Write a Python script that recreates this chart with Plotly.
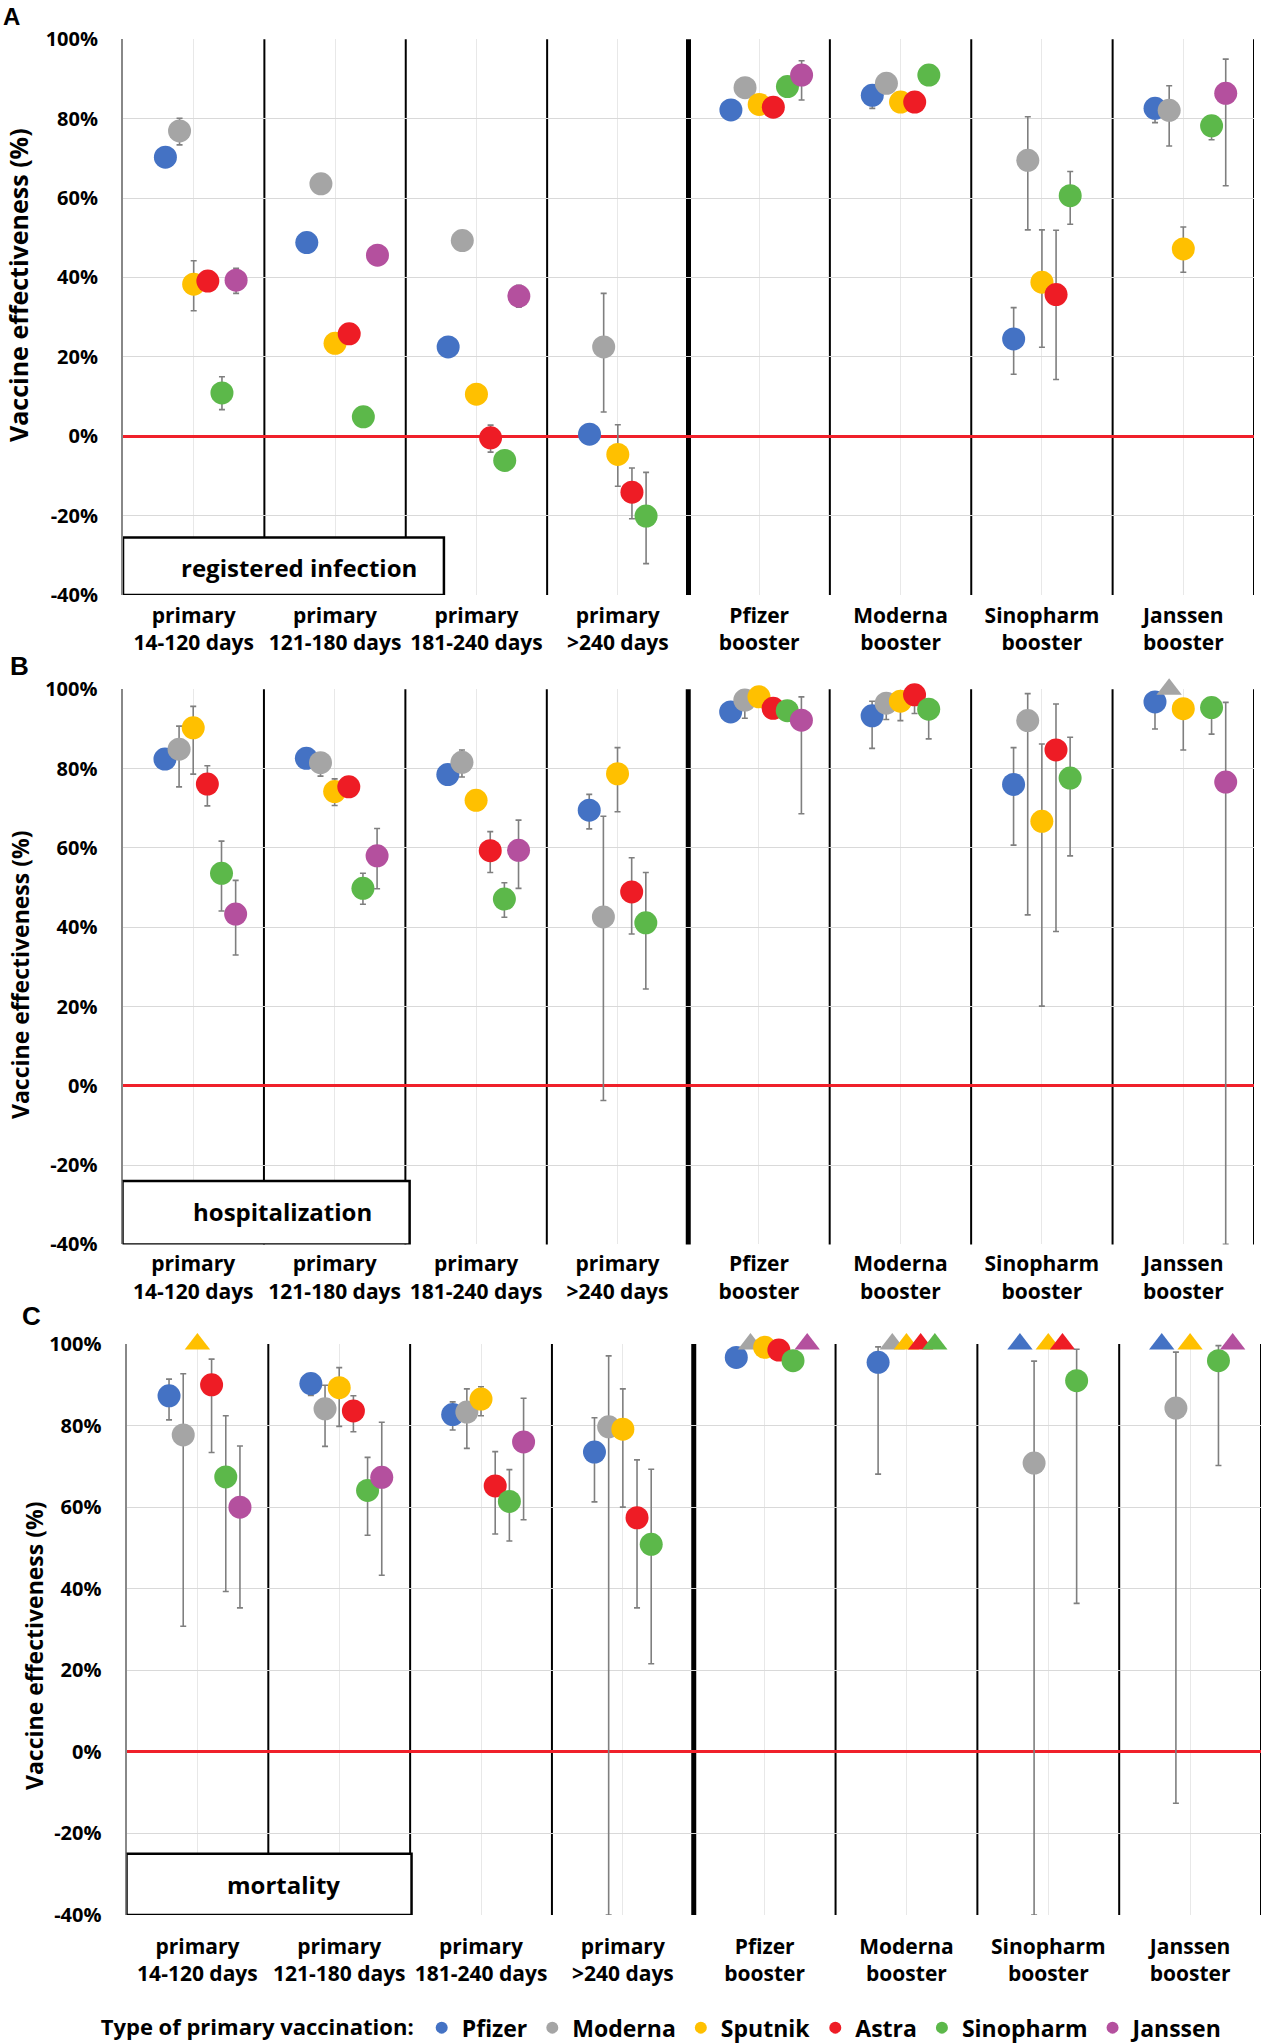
import plotly.graph_objects as go

W, H = 1263, 2043

VACCINES = ["Pfizer", "Moderna", "Sputnik", "Astra", "Sinopharm", "Janssen"]
COLORS = ["#4472C4", "#A5A5A5", "#FFC000", "#EE1C25", "#5CB84A", "#B4509E"]
GROUPS = ["primary<br>14-120 days", "primary<br>121-180 days", "primary<br>181-240 days",
          "primary<br>>240 days", "Pfizer<br>booster", "Moderna<br>booster",
          "Sinopharm<br>booster", "Janssen<br>booster"]
Y_TICKS = [-40, -20, 0, 20, 40, 60, 80, 100]
Y_TICK_TEXT = ["-40%", "-20%", "0%", "20%", "40%", "60%", "80%", "100%"]
PANEL_LABELS = ["registered infection", "hospitalization", "mortality"]

# ---- A: registered infection (rows follow VACCINES order, columns follow GROUPS) ----
INF_VE = [
    [70.3, 48.8, 22.5, 0.5, 82.2, 85.9, 24.5, 82.6],
    [76.9, 63.6, 49.3, 22.5, 87.8, 88.9, 69.5, 82.1],
    [38.3, 23.4, 10.6, -4.6, 83.6, 84.2, 38.8, 47.2],
    [39.1, 25.8, -0.4, -14.1, 82.9, 84.2, 35.7, None],
    [10.9, 4.9, -6.1, -20.1, 88.1, 91.0, 60.6, 78.2],
    [39.3, 45.6, 35.3, None, 91.0, None, None, 86.4],
]
INF_LO = [
    [None, None, None, None, None, 82.6, 15.6, 79.0],
    [73.4, None, None, 6.1, None, None, 52.0, 73.1],
    [31.6, None, None, -12.6, None, None, 22.4, 41.3],
    [None, None, -4.0, -20.8, None, None, 14.3, None],
    [6.7, None, None, -32.1, None, None, 53.4, 74.7],
    [36.0, None, 32.5, None, 84.7, None, None, 63.1],
]
INF_HI = [
    [None, None, None, None, None, None, 32.4, None],
    [80.1, None, None, 36.0, None, None, 80.5, 88.3],
    [44.2, None, None, 2.9, None, None, 52.0, 52.7],
    [None, None, 2.8, -8.0, None, None, 51.9, None],
    [15.0, None, None, -9.1, None, None, 66.7, None],
    [42.3, None, 38.0, None, 94.6, None, None, 95.0],
]

# ---- B: hospitalization ----
HOSP_VE = [
    [82.4, 82.6, 78.5, 69.5, 94.3, 93.3, 76.0, 96.8],
    [84.9, 81.5, 81.6, 42.6, 97.3, 96.5, 92.1, 100],
    [90.3, 74.2, 72.0, 78.7, 98.1, 97.0, 66.7, 95.1],
    [76.1, 75.4, 59.3, 48.9, 95.2, 98.6, 84.7, None],
    [53.6, 49.8, 47.1, 41.1, 94.6, 95.0, 77.6, 95.4],
    [43.3, 58.0, 59.4, None, 92.2, None, None, 76.6],
]
HOSP_LO = [
    [None, None, None, 64.8, None, 85.1, 60.7, 90.0],
    [75.4, 78.1, 77.9, -3.7, 92.7, 92.4, 43.1, None],
    [78.6, 70.7, None, 69.1, None, 92.1, 20.1, 84.7],
    [70.6, None, 53.8, 38.3, None, 93.9, 38.9, None],
    [44.1, 45.8, 42.5, 24.4, None, 87.5, 58.0, 88.7],
    [33.0, 49.7, 49.8, None, 68.6, None, None, -40],
]
HOSP_HI = [
    [None, None, None, 73.5, None, 97.0, 85.3, None],
    [90.7, None, 84.7, 68.0, None, None, 98.9, None],
    [95.7, 77.4, None, 85.3, None, None, 86.2, None],
    [80.7, None, 64.1, 57.5, None, None, 96.3, None],
    [61.7, 53.6, 51.2, 53.8, None, None, 87.9, None],
    [51.8, 64.9, 67.0, None, 98.1, None, None, 96.7],
]

# ---- C: mortality ----
MORT_VE = [
    [87.3, 90.3, 82.7, 73.5, 96.7, 95.5, 100, 100],
    [77.7, 84.1, 83.3, 79.7, 100, 100, 70.8, 84.3],
    [100, 89.3, 86.5, 79.1, 99.2, 100, 100, 100],
    [90.0, 83.6, 65.2, 57.4, 98.5, 100, 100, None],
    [67.4, 64.1, 61.4, 50.9, 95.9, 100, 91.0, 95.9],
    [60.0, 67.3, 76.0, None, 100, None, None, 100],
]
MORT_LO = [
    [81.4, 87.4, 78.9, 61.3, None, 68.1, None, None],
    [30.8, 74.9, 74.4, -40, None, None, -40, -12.6],
    [None, 79.8, 82.4, 60.0, None, None, None, None],
    [73.4, 78.5, 53.4, 35.3, None, None, None, None],
    [39.3, 53.1, 51.7, 21.6, None, None, 36.4, 70.2],
    [35.3, 43.3, 56.9, None, None, None, None, None],
]
MORT_HI = [
    [91.4, None, 85.8, 81.9, None, 99.3, None, None],
    [92.7, 89.9, 89.0, 97.1, None, None, 95.8, 98.0],
    [None, 94.2, 89.5, 89.0, None, None, None, None],
    [96.3, 87.3, 73.6, 71.6, None, None, None, None],
    [82.4, 72.2, 69.2, 69.3, None, None, 98.7, 99.6],
    [75.0, 80.8, 86.7, None, None, None, None, None],
]

PANELS = [(INF_VE, INF_LO, INF_HI), (HOSP_VE, HOSP_LO, HOSP_HI), (MORT_VE, MORT_LO, MORT_HI)]

# ---- layout geometry (pixels) ----
X_PX = [(123, 1254), (122.5, 1254), (126.5, 1261)]
Y_PX = [(39.3, 595), (689.3, 1244.4), (1344, 1915)]
XSTANDOFF = [6, 5, 17]
BOX = [(1.77, -25.5, 0.745, -33.0), (1.53, -24.0, 0.63, -31.6), (1.51, -25.0, 0.607, -32.6)]
LETTERS = [("A", 11.5, 16.5, 24), ("B", 19, 665.5, 26), ("C", 31.5, 1316, 26)]
YTITLES = [(18, 285, 25), (20, 975, 23), (34, 1646, 23)]

FONT = "Open Sans"
fig = go.Figure()

for p, (VE, LO, HI) in enumerate(PANELS):
    sfx = "" if p == 0 else str(p + 1)
    for i, vac in enumerate(VACCINES):
        xs, ys, plus, minus, sym, size = [], [], [], [], [], []
        for g in range(len(GROUPS)):
            v = VE[i][g]
            if v is None:
                continue
            xs.append(g + (i - 2) * 0.1)
            ys.append(v)
            hi, lo = HI[i][g], LO[i][g]
            plus.append(hi - v if hi is not None else 0)
            minus.append(v - lo if lo is not None else 0)
            tri = v >= 100
            sym.append("triangle-up" if tri else "circle")
            size.append(22 if tri else 23)
        fig.add_trace(go.Scatter(
            x=xs, y=ys, mode="markers", name=vac, legendgroup=vac,
            showlegend=(p == 0), xaxis="x" + sfx, yaxis="y" + sfx,
            marker=dict(color=COLORS[i], size=size, symbol=sym, line=dict(width=0), opacity=1),
            error_y=dict(type="data", symmetric=False, array=plus, arrayminus=minus,
                         color="#7F7F7F", thickness=1.6, width=3),
            cliponaxis=False,
        ))

layout = dict(
    width=W, height=H, margin=dict(l=0, r=0, t=0, b=0, autoexpand=False),
    paper_bgcolor="white", plot_bgcolor="white",
    font=dict(family=FONT, color="black"),
    legend=dict(orientation="h", x=0.5255, xanchor="center", y=0.0075, yanchor="middle",
                title=dict(text="Type of primary vaccination:", side="left",
                           font=dict(size=22, weight="bold", family=FONT)),
                font=dict(size=23, weight="bold", family=FONT),
                itemsizing="constant", itemwidth=30, bgcolor="rgba(0,0,0,0)"),
    shapes=[], annotations=[],
)

for p in range(3):
    sfx = "" if p == 0 else str(p + 1)
    layout["xaxis" + sfx] = dict(
        domain=[X_PX[p][0] / W, X_PX[p][1] / W], range=[-0.5, 7.5],
        tickvals=list(range(len(GROUPS))), ticktext=GROUPS,
        showgrid=True, gridcolor="#E8E8E8", gridwidth=1, zeroline=False, showline=False,
        ticks="", ticklabelstandoff=XSTANDOFF[p], automargin=False,
        tickfont=dict(size=21, weight="bold", family=FONT, color="black"),
        anchor="y" + sfx, fixedrange=True)
    layout["yaxis" + sfx] = dict(
        domain=[1 - Y_PX[p][1] / H, 1 - Y_PX[p][0] / H], range=[-40, 100],
        tickvals=Y_TICKS, ticktext=Y_TICK_TEXT,
        showgrid=True, gridcolor="#D9D9D9", gridwidth=1,
        zeroline=True, zerolinecolor="#F0202A", zerolinewidth=2.5,
        showline=True, linecolor="#888888", linewidth=2,
        ticks="", ticklabelstandoff=19, automargin=False,
        tickfont=dict(size=20, weight="bold", family=FONT, color="black"),
        anchor="x" + sfx, fixedrange=True)

    xr, yr = "x" + sfx, "y" + sfx
    for k in range(len(GROUPS)):
        xb = k + 0.5
        layout["shapes"].append(dict(
            type="line", xref=xr, yref=yr + " domain", x0=xb, x1=xb, y0=0, y1=1,
            line=dict(color="black", width=5 if k == 3 else 2), layer="below"))
    bx1, by1, tx, ty = BOX[p]
    layout["shapes"].append(dict(
        type="rect", xref=xr, yref=yr, x0=-0.5, x1=bx1, y0=-40, y1=by1,
        fillcolor="white", line=dict(color="black", width=2.5), layer="above"))
    layout["annotations"].append(dict(
        xref=xr, yref=yr, x=tx, y=ty, text=PANEL_LABELS[p], showarrow=False,
        font=dict(size=24, weight="bold", family=FONT, color="black")))
    lt, lx, ly, ls = LETTERS[p]
    layout["annotations"].append(dict(
        xref="paper", yref="paper", x=lx / W, y=1 - ly / H, text=lt, showarrow=False,
        xanchor="center", yanchor="middle",
        font=dict(size=ls, weight="bold", family="Liberation Sans", color="black")))
    ttx, tty, tts = YTITLES[p]
    layout["annotations"].append(dict(
        xref="paper", yref="paper", x=ttx / W, y=1 - tty / H,
        text="Vaccine effectiveness (%)", textangle=-90, showarrow=False,
        xanchor="center", yanchor="middle",
        font=dict(size=tts, weight="bold", family=FONT, color="black")))

fig.update_layout(**layout)
fig.write_html("out.html", config={"displayModeBar": False},
               post_script="document.body.style.margin='0px';")
